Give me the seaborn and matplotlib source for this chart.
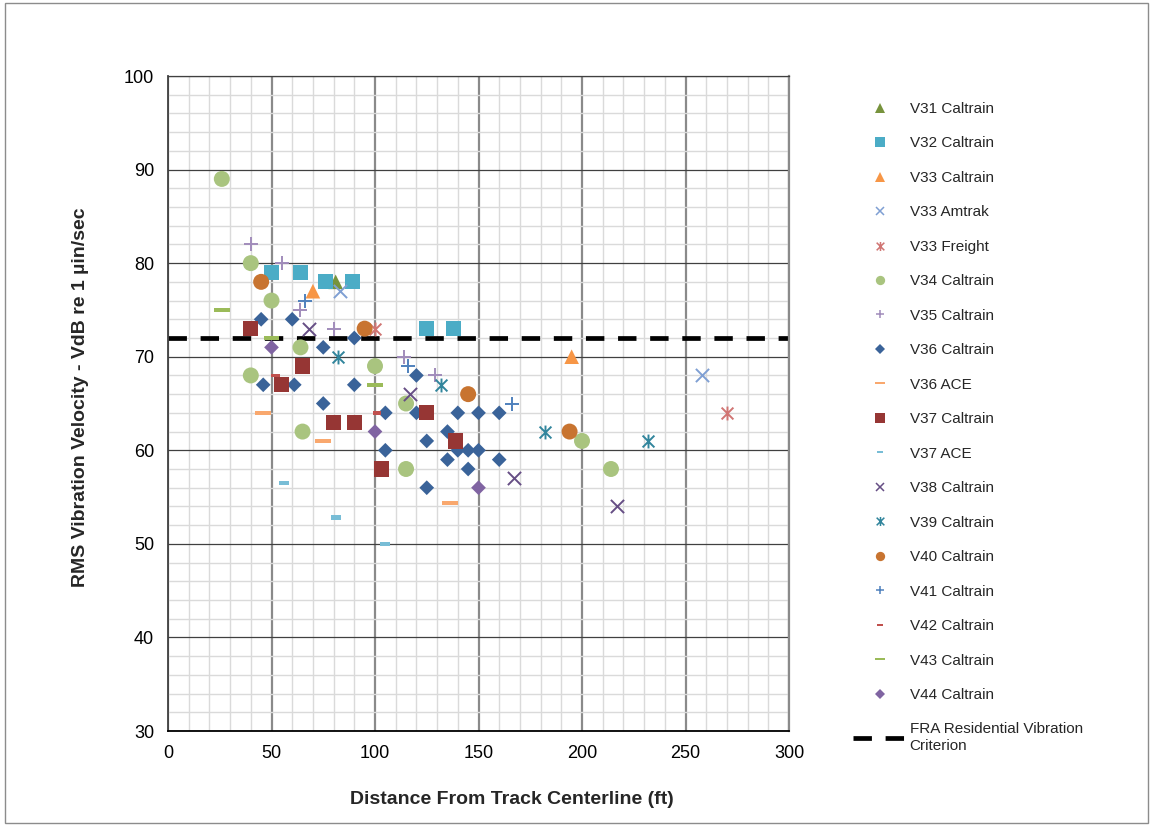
import seaborn as sns
import matplotlib.pyplot as plt
from matplotlib.path import Path
from matplotlib.lines import Line2D
from matplotlib.patches import Rectangle
from matplotlib.ticker import MultipleLocator

# values: distance (ft) and level (VdB)
v31_cal_x = [81]
v31_cal_y = [78]
v32_cal_x = [50, 64, 76, 89, 125, 138]
v32_cal_y = [79, 79, 78, 78, 73, 73]
v33_cal_x = [70, 195]
v33_cal_y = [77, 70]
v33_amt_x = [83, 258]
v33_amt_y = [77, 68]
v33_frt_x = [100, 270]
v33_frt_y = [73, 64]
v34_cal_x = [26, 40, 50, 64, 40, 65, 100, 115, 115, 200, 214]
v34_cal_y = [89, 80, 76, 71, 68, 62, 69, 65, 58, 61, 58]
v35_cal_x = [40, 55, 64, 80, 114, 129]
v35_cal_y = [82, 80, 75, 73, 70, 68]
v36_cal_x = [45, 60, 90, 75, 46, 61, 75, 90, 120, 105, 120, 140, 150, 160,
             135, 125, 140, 145, 150, 105, 135, 145, 160, 125]
v36_cal_y = [74, 74, 72, 71, 67, 67, 65, 67, 68, 64, 64, 64, 64, 64,
             62, 61, 60, 60, 60, 60, 59, 58, 59, 56]
v36_ace_x = [46, 75, 136]
v36_ace_y = [64, 61, 54.4]
v37_cal_x = [40, 65, 55, 80, 90, 103, 125, 139]
v37_cal_y = [73, 69, 67, 63, 63, 58, 64, 61]
v37_ace_x = [56, 81, 105]
v37_ace_y = [56.5, 52.8, 50]
v38_cal_x = [68, 117, 167, 217]
v38_cal_y = [73, 66, 57, 54]
v39_cal_x = [82, 132, 182, 232]
v39_cal_y = [70, 67, 62, 61]
v40_cal_x = [45, 95, 145, 194]
v40_cal_y = [78, 73, 66, 62]
v41_cal_x = [66, 116, 166]
v41_cal_y = [76, 69, 65]
v42_cal_x = [52, 101]
v42_cal_y = [68, 64]
v43_cal_x = [26, 50, 100]
v43_cal_y = [75, 72, 67]
v44_cal_x = [50, 100, 150]
v44_cal_y = [71, 62, 56]

fra_criterion = 72
x_ticks = [0, 50, 100, 150, 200, 250, 300]
y_ticks = [30, 40, 50, 60, 70, 80, 90, 100]

# excel style markers that matplotlib lacks
star = Path([(0, -1), (0, 1), (-0.85, -0.85), (0.85, 0.85), (-0.85, 0.85), (0.85, -0.85)],
            [Path.MOVETO, Path.LINETO] * 3)
long_dash = [(-2, -0.5), (2, -0.5), (2, 0.5), (-2, 0.5), (-2, -0.5)]
short_dash = [(-1.1, -0.5), (1.1, -0.5), (1.1, 0.5), (-1.1, 0.5), (-1.1, -0.5)]

# label, x, y, marker, colour, plot size (pt), legend size (pt), filled
series = [
    ("V31 Caltrain", v31_cal_x, v31_cal_y, "^", "#77933C", 10.5, 7, True),
    ("V32 Caltrain", v32_cal_x, v32_cal_y, "s", "#4BACC6", 11, 6.7, True),
    ("V33 Caltrain", v33_cal_x, v33_cal_y, "^", "#F79646", 10.5, 7, True),
    ("V33 Amtrak", v33_amt_x, v33_amt_y, "x", "#7F9FD3", 9.5, 5.5, False),
    ("V33 Freight", v33_frt_x, v33_frt_y, star, "#D07573", 10, 6.5, False),
    ("V34 Caltrain", v34_cal_x, v34_cal_y, "o", "#A9C47F", 11.5, 6.7, True),
    ("V35 Caltrain", v35_cal_x, v35_cal_y, "+", "#A18CBB", 9.5, 5.5, False),
    ("V36 Caltrain", v36_cal_x, v36_cal_y, "D", "#3A6399", 7.5, 5, True),
    ("V36 ACE", v36_ace_x, v36_ace_y, long_dash, "#F9A86E", 11.5, 7, True),
    ("V37 Caltrain", v37_cal_x, v37_cal_y, "s", "#963634", 11, 6.7, True),
    ("V37 ACE", v37_ace_x, v37_ace_y, short_dash, "#78BDD6", 7, 4, True),
    ("V38 Caltrain", v38_cal_x, v38_cal_y, "x", "#664E85", 9.5, 5.5, False),
    ("V39 Caltrain", v39_cal_x, v39_cal_y, star, "#31859C", 10, 6.5, False),
    ("V40 Caltrain", v40_cal_x, v40_cal_y, "o", "#C87430", 11.5, 6.7, True),
    ("V41 Caltrain", v41_cal_x, v41_cal_y, "+", "#4F81BD", 9.5, 5.5, False),
    ("V42 Caltrain", v42_cal_x, v42_cal_y, short_dash, "#C0504D", 6, 4, True),
    ("V43 Caltrain", v43_cal_x, v43_cal_y, long_dash, "#9BBB59", 11.5, 7, True),
    ("V44 Caltrain", v44_cal_x, v44_cal_y, "D", "#8064A2", 7.5, 5, True),
]

sns.set_style("white")
plt.rcParams['font.family'] = ['Liberation Sans', 'DejaVu Sans']

fig = plt.figure(figsize=(11.51, 8.26), dpi=100)
ax = fig.add_axes([168 / 1151, 95 / 826, 621 / 1151, 655 / 826])

# criterion line sits under the markers
ax.axhline(fra_criterion, color="black", lw=3.4, dashes=(3.9, 2.9), zorder=2)

handles = []
for label, xs, ys, marker, color, size, lsize, filled in series:
    if filled:
        sns.scatterplot(x=xs, y=ys, marker=marker, color=color, s=size ** 2,
                        edgecolor="none", linewidth=0, ax=ax, legend=False, zorder=3)
    else:
        sns.scatterplot(x=xs, y=ys, marker=marker, color=color, s=size ** 2,
                        edgecolor=color, linewidth=1.4, ax=ax, legend=False, zorder=3)
    handles.append(Line2D([], [], linestyle="none", marker=marker, markersize=lsize,
                          color=color, markerfacecolor=color, markeredgecolor=color,
                          markeredgewidth=1.1 if not filled else 0, label=label))

handles.append(Line2D([], [], color="black", lw=3.4, dashes=(3.9, 2.9),
                      label="FRA Residential Vibration\nCriterion"))

ax.set_xlim(0, 300)
ax.set_ylim(30, 100)
ax.set_xticks(x_ticks)
ax.set_yticks(y_ticks)
ax.xaxis.set_minor_locator(MultipleLocator(10))
ax.yaxis.set_minor_locator(MultipleLocator(2))

ax.set_axisbelow(True)
ax.grid(which="minor", color="#DADADA", lw=1.0)
ax.grid(which="major", axis="x", color="#8A8A8A", lw=1.6)
ax.grid(which="major", axis="y", color="#404040", lw=0.9)

ax.tick_params(which="minor", length=0)
ax.tick_params(which="major", direction="out", length=4, width=1, color="#404040",
               labelsize=13, pad=6, labelcolor="black")

ax.spines["left"].set_color("#404040")
ax.spines["left"].set_linewidth(1.3)
ax.spines["bottom"].set_color("black")
ax.spines["bottom"].set_linewidth(1.3)
ax.spines["top"].set_color("#404040")
ax.spines["top"].set_linewidth(0.9)
ax.spines["right"].set_color("#8A8A8A")
ax.spines["right"].set_linewidth(1.6)

ax.set_xlabel("Distance From Track Centerline (ft)", fontsize=14, fontweight="bold")
ax.set_ylabel("RMS Vibration Velocity - VdB re 1 µin/sec", fontsize=14, fontweight="bold")
ax.xaxis.set_label_coords(0.554, -0.092)
ax.yaxis.set_label_coords(-0.127, 0.509)

fig.legend(handles=handles, loc="upper left", bbox_to_anchor=(853 / 1151, 1 - 102 / 826),
           frameon=False, fontsize=11, handlelength=3.5, handletextpad=0.2,
           labelspacing=1.34, borderpad=0, borderaxespad=0, labelcolor="#262626")

# thin frame round the whole chart
fig.add_artist(Rectangle((5 / 1151, 3 / 826), 1143 / 1151, 820 / 826, transform=fig.transFigure,
                         fill=False, edgecolor="#8C8C8C", lw=1))

fig.savefig("out.png", dpi=100)
